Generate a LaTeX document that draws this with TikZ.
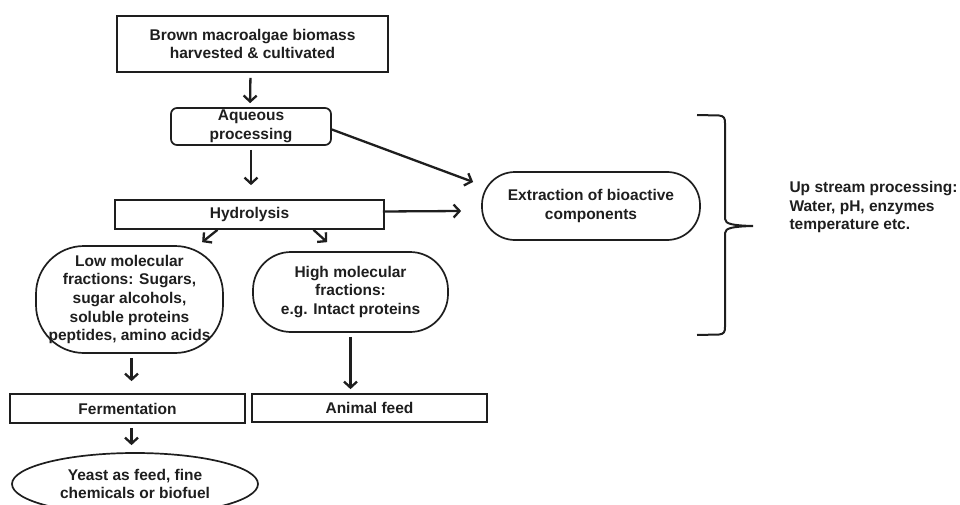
\documentclass[tikz,border=0pt]{standalone}
\usepackage{fontspec}
\setmainfont{Liberation Sans}
\usetikzlibrary{arrows.meta,shapes.geometric}
\definecolor{ink}{HTML}{1E1E1E}
\begin{document}
\begin{tikzpicture}[x=1pt,y=-1pt,
  every node/.style={font=\fontsize{15.5}{18.6}\selectfont\bfseries, text=ink, align=center},
  box/.style={draw=ink, line width=1.7pt, inner sep=0pt},
  rbox/.style={box, rounded corners=#1},
  arr/.style={draw=ink, line width=2.3pt, -{Straight Barb[length=6pt,width=13pt]}},
  brace/.style={draw=ink, line width=2pt}]
\useasboundingbox (0,0) rectangle (960,505);
\node[box, minimum width=271pt, minimum height=56pt] (top) at (252.5,44) {Brown macroalgae biomass\\harvested \& cultivated};
\node[rbox=6pt, minimum width=160pt, minimum height=37pt] (aq) at (251,126.5) {Aqueous\\processing};
\node[box, minimum width=269pt, minimum height=29pt] (hyd) at (249.5,214.5) {Hydrolysis};
\node[rbox=33pt, minimum width=218pt, minimum height=68pt] (ext) at (591,206) {Extraction of bioactive\\components};
\node[rbox=48pt, minimum width=187pt, minimum height=107pt] (low) at (129.5,299.5) {Low molecular\\fractions: Sugars,\\sugar alcohols,\\soluble proteins\\peptides, amino acids};
\node[rbox=38pt, minimum width=195pt, minimum height=80pt] (high) at (350.5,292) {High molecular\\fractions:\\e.g. Intact proteins};
\node[box, minimum width=235pt, minimum height=29pt] (ferm) at (127.5,408.5) {Fermentation};
\node[box, minimum width=235pt, minimum height=28pt] (feed) at (369.5,408) {Animal feed};
\node[box, ellipse, minimum width=246pt, minimum height=62pt] (yeast) at (135,484) {Yeast as feed, fine\\chemicals or biofuel};
\node[anchor=west, align=left] (ups) at (786,207) {Up stream processing:\\Water, pH, enzymes\\temperature etc.};
% connectors
\draw[arr, shorten <=5pt, shorten >=4pt] ([xshift=-2pt]top.south) -- ([xshift=-1pt]aq.north);
\draw[arr, shorten <=4pt, shorten >=14pt] (aq.south) -- (aq.south |- hyd.north);
\draw[arr] ([shift={(0,3)}]aq.east) -- ([shift={(-8,-24)}]ext.west);
\draw[arr] ([shift={(-2,-3)}]hyd.east) -- ([shift={(-20,5)}]ext.west);
\draw[arr] ([xshift=-32pt]hyd.south) -- ([shift={(167,-3)}]low.north west);
\draw[arr] ([xshift=64pt]hyd.south) -- ([shift={(75,-9)}]high.north west);
\draw[arr, shorten <=4pt, shorten >=12pt] ([xshift=2pt]low.south) -- ([xshift=2pt]low.south |- ferm.north);
\draw[arr, shorten <=4pt, shorten >=4pt] (high.south) -- (high.south |- feed.north);
\draw[arr, shorten <=4pt, shorten >=7pt] ([xshift=4pt]ferm.south) -- ([xshift=4pt]ferm.south |- yeast.north);
% brace
\coordinate (bt) at (697,115);
\coordinate (bb) at (697,335);
\coordinate (btip) at (753,226);
\draw[brace] (bt) -- (719,115.5) .. controls (724,116) and (725,118) .. (725,123) -- (725,219)
  .. controls (725,224) and (733,225.5) .. (btip)
  .. controls (733,226.5) and (725,228) .. (725,233) -- (725,327)
  .. controls (725,332) and (724,334) .. (719,334.5) -- (bb);
\end{tikzpicture}
\end{document}
